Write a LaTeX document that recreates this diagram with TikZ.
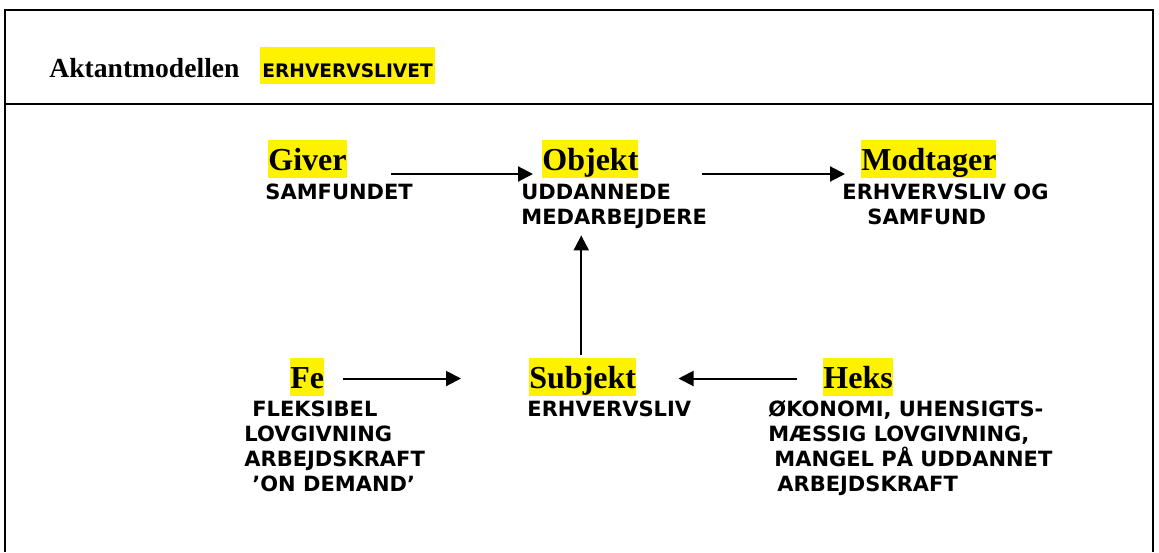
\documentclass[tikz,border=0pt]{standalone}
\usepackage{fontspec}
\setmainfont{Liberation Serif}
\newfontfamily\verdana{DejaVu Sans}
\usetikzlibrary{positioning, arrows.meta, calc}

\tikzset{
  actant/.style={fill=yellow, inner sep=0pt, text height=15pt, text depth=4pt, anchor=base west,
    font=\fontsize{16pt}{19pt}\selectfont\bfseries},
  desc/.style={inner sep=0pt, anchor=base west, align=left,
    font=\verdana\fontsize{10.5pt}{12.5pt}\selectfont\bfseries},
  pil/.style={-{Triangle[length=7.5pt, width=7.5pt]}, line width=1pt},
  ramme/.style={line width=1.3pt},
}

\begin{document}
\begin{tikzpicture}[x=0.5pt, y=-0.5pt]
    \useasboundingbox (0,0) rectangle (1159,552);

    % Frame and header line
    \draw[ramme] (5,552) -- (5,10) -- (1153,10) -- (1153,552);
    \draw[ramme] (5,104) -- (1153,104);

    % Heading
    \node[anchor=base west, inner sep=0pt, font=\fontsize{13.8pt}{17pt}\selectfont\bfseries] (titel) at (49,77) {Aktantmodellen};
    \node[fill=yellow, inner xsep=1pt, inner ysep=0pt, text height=15pt, text depth=3.5pt, anchor=base west,
      font=\verdana\fontsize{9.3pt}{11pt}\selectfont\bfseries] (emne) at (260,77) {ERHVERVSLIVET};

    % Actants
    \node[actant] (giver) at (268,170) {Giver};
    \node[actant] (objekt) at (542,170) {Objekt};
    \node[actant] (modtager) at (861,170) {Modtager};
    \node[actant] (fe) at (290,388) {Fe};
    \node[actant] (subjekt) at (529,388) {Subjekt};
    \node[actant] (heks) at (823,388) {Heks};

    % Descriptions (base = last line)
    \node[desc] (giverdesc) at (265,199) {SAMFUNDET};
    \node[desc] (objektdesc) at (521,224) {UDDANNEDE\\MEDARBEJDERE};
    \node[desc] (modtagerdesc) at (842,224) {ERHVERVSLIV OG\\\hspace*{12.5pt}SAMFUND};
    \node[desc] (fedesc) at (244,491) {\hspace*{4pt}FLEKSIBEL\\LOVGIVNING\\ARBEJDSKRAFT\\\hspace*{4pt}’ON DEMAND’};
    \node[desc] (subjektdesc) at (527,416) {ERHVERVSLIV};
    \node[desc] (heksdesc) at (768,491) {ØKONOMI, UHENSIGTS-\\MÆSSIG LOVGIVNING,\\\hspace*{3pt}MANGEL PÅ UDDANNET\\\hspace*{4.5pt}ARBEJDSKRAFT};

    % Arrows
    \draw[pil, shorten <=22pt, shorten >=4.5pt] ([yshift=-7.5pt]giver.east) -- ([yshift=-7.5pt]objekt.west);
    \draw[pil, shorten <=31.5pt, shorten >=8pt] ([yshift=-7.5pt]objekt.east) -- ([yshift=-7.5pt]modtager.west);
    \draw[pil, shorten <=9pt, shorten >=34pt] ([yshift=-0.75pt]fe.east) -- ([yshift=-0.75pt]subjekt.west);
    \draw[pil, shorten <=13pt, shorten >=21pt] ([yshift=-0.75pt]heks.west) -- ([yshift=-0.75pt]subjekt.east);
    \draw[pil, shorten <=1.5pt, shorten >=28.5pt] ([xshift=-0.75pt]subjekt.north) -- ([xshift=-0.75pt]subjekt.north |- objekt.south);
\end{tikzpicture}
\end{document}
